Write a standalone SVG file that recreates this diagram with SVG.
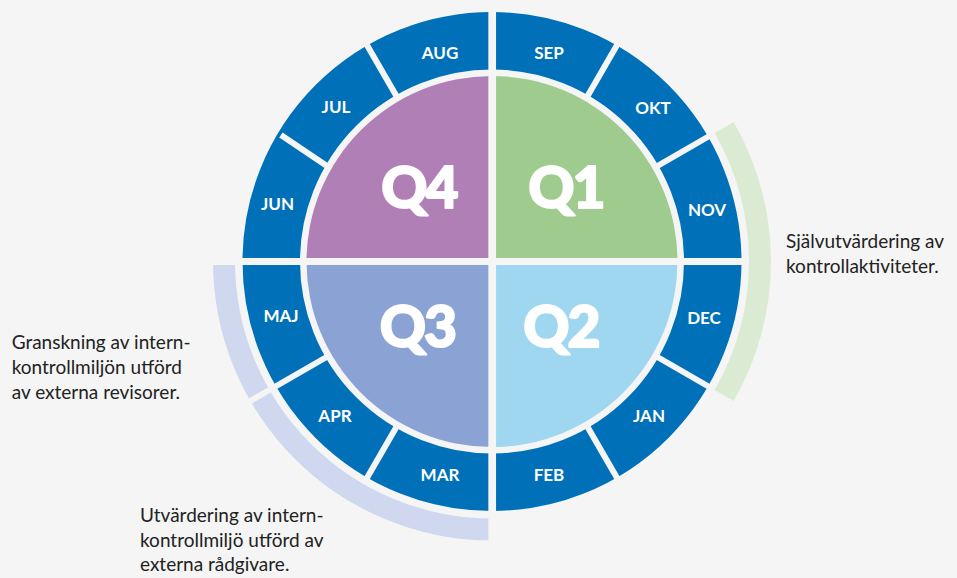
<svg xmlns="http://www.w3.org/2000/svg" width="957" height="578" viewBox="0 0 957 578">
  <style>
    .bg { fill: #f5f5f5; }
    .gap { stroke: #f5f5f5; fill: none; }
    .month { font-family: Lato, "Open Sans", "Liberation Sans", sans-serif; font-weight: 700; font-size: 17px; fill: #ffffff; text-anchor: middle; }
    .q { font-family: Lato, "Open Sans", "Liberation Sans", sans-serif; font-weight: 900; font-size: 57px; fill: #ffffff; stroke: #ffffff; stroke-width: 2; stroke-linejoin: round; text-anchor: middle; letter-spacing: -2px; }
    .note { font-family: Lato, "Open Sans", "Liberation Sans", sans-serif; font-weight: 400; font-size: 19px; fill: #222222; }
  </style>
  <rect class="bg" x="0" y="0" width="957" height="578"/>

  <!-- bracket arcs -->
  <g id="brackets">
    <path id="arc-self" d="M733.62,122 A279,279 0 0 1 733.62,401 L714.57,390 A257,257 0 0 0 714.57,133 Z" fill="#dbebd3"/>
    <path id="arc-external" d="M492,540.5 A279,279 0 0 1 213,261.5 L235,261.5 A257,257 0 0 0 492,518.5 Z" fill="#cfd8ef"/>
  </g>

  <!-- month ring -->
  <g id="ring">
    <circle cx="492" cy="261.5" r="220.75" fill="none" stroke="#0070b9" stroke-width="57.5"/>
  </g>

  <!-- quadrants -->
  <g id="q1">
    <path d="M492,261.5 L492,76 A185.5,185.5 0 0 1 677.5,261.5 Z" fill="#9fcb8f"/>
    <text class="q" x="566" y="208">Q1</text>
  </g>
  <g id="q2">
    <path d="M492,261.5 L677.5,261.5 A185.5,185.5 0 0 1 492,447 Z" fill="#9fd7f1"/>
    <text class="q" x="561" y="347">Q2</text>
  </g>
  <g id="q3">
    <path d="M492,261.5 L492,447 A185.5,185.5 0 0 1 306.5,261.5 Z" fill="#8aa2d4"/>
    <text class="q" x="417.5" y="347">Q3</text>
  </g>
  <g id="q4">
    <path d="M492,261.5 L306.5,261.5 A185.5,185.5 0 0 1 492,76 Z" fill="#b07fb6"/>
    <text class="q" x="419" y="208">Q4</text>
  </g>

  <!-- gaps -->
  <g id="gaps" class="gap">
    <line x1="492.2" y1="5" x2="492.2" y2="548" stroke-width="7.7"/>
    <line x1="205" y1="261.5" x2="746" y2="261.5" stroke-width="7"/>
    <g stroke-width="6">
      <line x1="586" y1="98.69" x2="618.5" y2="42.4"/>
      <line x1="654.81" y1="167.5" x2="711.1" y2="135"/>
      <line x1="654.81" y1="355.5" x2="711.1" y2="388"/>
      <line x1="586" y1="424.31" x2="618.5" y2="480.6"/>
      <line x1="398" y1="424.31" x2="365.5" y2="480.6"/>
      <line x1="329.19" y1="355.5" x2="245.18" y2="404"/>
      <line x1="329.19" y1="167.5" x2="280.9" y2="135"/>
      <line x1="398" y1="98.69" x2="365.5" y2="42.4"/>
    </g>
  </g>

  <!-- month labels -->
  <g id="months">
    <g id="m-sep"><text class="month" x="549" y="59">SEP</text></g>
    <g id="m-okt"><text class="month" x="653" y="114">OKT</text></g>
    <g id="m-nov"><text class="month" x="707" y="216">NOV</text></g>
    <g id="m-dec"><text class="month" x="704" y="324">DEC</text></g>
    <g id="m-jan"><text class="month" x="649" y="422">JAN</text></g>
    <g id="m-feb"><text class="month" x="549" y="481">FEB</text></g>
    <g id="m-mar"><text class="month" x="440" y="481">MAR</text></g>
    <g id="m-apr"><text class="month" x="335" y="422">APR</text></g>
    <g id="m-maj"><text class="month" x="281" y="322">MAJ</text></g>
    <g id="m-jun"><text class="month" x="277.5" y="210">JUN</text></g>
    <g id="m-jul"><text class="month" x="336" y="113">JUL</text></g>
    <g id="m-aug"><text class="month" x="440" y="59">AUG</text></g>
  </g>

  <!-- annotations -->
  <g id="note-self">
    <text class="note" x="786" y="248.3">Självutvärdering av</text>
    <text class="note" x="786" y="273.3">kontrollaktiviteter.</text>
  </g>
  <g id="note-review">
    <text class="note" x="11.7" y="349.3">Granskning av intern-</text>
    <text class="note" x="11.7" y="374.3">kontrollmiljön utförd</text>
    <text class="note" x="11.7" y="399.3">av externa revisorer.</text>
  </g>
  <g id="note-eval">
    <text class="note" x="140" y="521.7">Utvärdering av intern-</text>
    <text class="note" x="140" y="546.7">kontrollmiljö utförd av</text>
    <text class="note" x="140" y="571">externa rådgivare.</text>
  </g>
</svg>
